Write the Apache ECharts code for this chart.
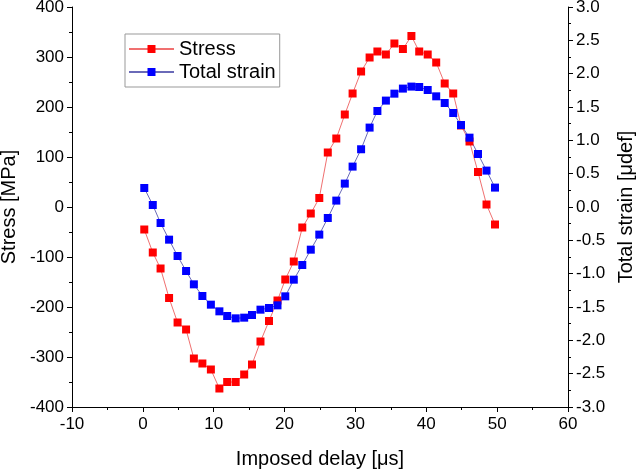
<!DOCTYPE html>
<html>
<head>
<meta charset="UTF-8">
<title>Stress and total strain</title>
<script src="https://cdn.jsdelivr.net/npm/echarts@6.0.0/dist/echarts.min.js"></script>
<style>
  html, body { margin: 0; padding: 0; background: #fff; }
  #chart { width: 640px; height: 469px; }
</style>
</head>
<body>
<div id="chart"></div>
<script>
// imposed delay [µs]
var delay = [0.2, 1.4, 2.5, 3.7, 4.9, 6.1, 7.2, 8.4, 9.6, 10.8, 11.9, 13.1, 14.3, 15.4,
  16.6, 17.8, 19.0, 20.1, 21.3, 22.5, 23.7, 24.9, 26.1, 27.3, 28.5, 29.6, 30.8, 32.0,
  33.1, 34.3, 35.5, 36.7, 37.9, 39.0, 40.2, 41.4, 42.6, 43.8, 44.9, 46.1, 47.3, 48.5, 49.7];

// stress [MPa]
var stress = [-45, -91, -123, -182, -231, -245, -303, -313, -325, -363, -350, -350, -335, -315,
  -269, -228, -187, -145, -109, -41, -13, 18, 109, 137, 185, 227, 271, 299,
  311, 305, 327, 316, 342, 311, 305, 289, 247, 227, 163, 131, 70, 5, -35];

// total strain [µdef]
var strain = [0.285, 0.03, -0.24, -0.49, -0.735, -0.96, -1.16, -1.335, -1.465, -1.565, -1.635, -1.67, -1.66, -1.62,
  -1.54, -1.515, -1.475, -1.34, -1.09, -0.87, -0.64, -0.414, -0.165, 0.096, 0.351, 0.606, 0.866, 1.191,
  1.44, 1.596, 1.70, 1.776, 1.806, 1.80, 1.755, 1.66, 1.56, 1.41, 1.23, 1.04, 0.795, 0.546, 0.291];

var chart = echarts.init(document.getElementById('chart'));

function pairs(xs, ys) {
  return xs.map(function (x, i) { return [x, ys[i]]; });
}

// plain hyphen for negatives, like the original plot
function plain(digits) {
  return function (v) { return (+v).toFixed(digits).replace('\u2212', '-'); };
}

var font = 'Liberation Sans, Arial, sans-serif';
var axisCommon = {
  axisLine: { show: true, onZero: false, lineStyle: { color: '#000', width: 1 } },
  axisTick: { show: true, inside: false, length: 5, lineStyle: { color: '#000' } },
  minorTick: { show: true, splitNumber: 2, length: 3, lineStyle: { color: '#000' } },
  splitLine: { show: false },
  axisLabel: { color: '#000', fontSize: 17, fontFamily: font, margin: 8, formatter: plain(0) },
  nameTextStyle: { color: '#000', fontSize: 20, fontFamily: font }
};

var option = {
  animation: false,
  backgroundColor: '#fff',
  grid: { left: 72, right: 72, top: 7, bottom: 62, containLabel: false, outerBoundsMode: 'none' },
  legend: {
    orient: 'vertical',
    left: 125, top: 34,
    borderColor: '#999', borderWidth: 1,
    padding: [5, 4, 5, 3],
    itemWidth: 45, itemHeight: 10, itemGap: 3,
    textStyle: { color: '#000', fontSize: 20, fontFamily: font },
    data: ['Stress', 'Total strain']
  },
  xAxis: Object.assign({}, axisCommon, {
    type: 'value', min: -10, max: 60, interval: 10,
    axisLabel: Object.assign({}, axisCommon.axisLabel, { margin: 9 }),
    name: 'Imposed delay [μs]', nameLocation: 'middle', nameGap: 42
  }),
  yAxis: [
    Object.assign({}, axisCommon, {
      type: 'value', min: -400, max: 400, interval: 100, position: 'left',
      name: 'Stress [MPa]', nameLocation: 'middle', nameGap: 41
    }),
    Object.assign({}, axisCommon, {
      type: 'value', min: -3, max: 3, interval: 0.5, position: 'right',
      axisLabel: Object.assign({}, axisCommon.axisLabel, { formatter: plain(1) }),
      name: 'Total strain [μdef]', nameLocation: 'middle', nameGap: 46, nameRotate: 90
    })
  ],
  series: [
    {
      name: 'Stress', type: 'line', yAxisIndex: 0,
      data: pairs(delay, stress),
      symbol: 'rect', symbolSize: 8,
      itemStyle: { color: '#ff0000' },
      lineStyle: { color: '#f07070', width: 1 }
    },
    {
      name: 'Total strain', type: 'line', yAxisIndex: 1,
      data: pairs(delay, strain),
      symbol: 'rect', symbolSize: 8,
      itemStyle: { color: '#0000ff' },
      lineStyle: { color: '#6a6ab8', width: 1 }
    }
  ]
};

chart.setOption(option);
</script>
</body>
</html>
